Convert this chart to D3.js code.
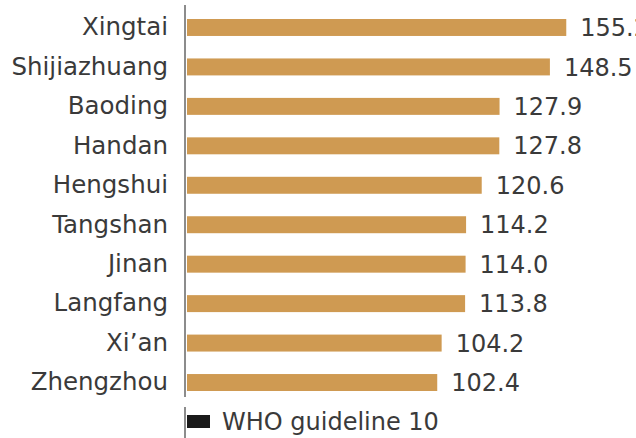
<!DOCTYPE html>
<html>
<head>
<meta charset="utf-8">
<script src="https://cdn.jsdelivr.net/npm/d3@7"></script>
<style>
  html, body { margin: 0; padding: 0; background: #fff; }
  svg { display: block; }
  text { font-family: "DejaVu Sans", Verdana, sans-serif; fill: #3a3a3a; }
</style>
</head>
<body>
<svg id="chart" width="636" height="438"></svg>
<script>
const cities = ["Xingtai", "Shijiazhuang", "Baoding", "Handan", "Hengshui", "Tangshan", "Jinan", "Langfang", "Xi\u2019an", "Zhengzhou"];
const values = [155.2, 148.5, 127.9, 127.8, 120.6, 114.2, 114.0, 113.8, 104.2, 102.4];
const legendLabel = "WHO guideline 10";

const svg = d3.select("#chart");

const x = d3.scaleLinear().domain([0, 160]).range([187, 578]);
const y = d3.scaleBand().domain(cities).range([19, 391]).paddingInner(0.57).paddingOuter(0);

const data = cities.map((c, i) => ({ city: c, value: values[i] }));

// bars
svg.selectAll("rect.bar")
  .data(data)
  .join("rect")
  .attr("class", "bar")
  .attr("x", x(0))
  .attr("y", d => y(d.city))
  .attr("width", d => x(d.value) - x(0))
  .attr("height", y.bandwidth())
  .attr("fill", "#CF9A52");

// category axis
const yAxis = d3.axisLeft(y).tickSize(0).tickPadding(17);
const gy = svg.append("g").attr("transform", "translate(185,0)").call(yAxis);
gy.select(".domain").remove();
gy.selectAll("text")
  .style("font-family", "'DejaVu Sans', Verdana, sans-serif")
  .style("font-size", "24.5px")
  .attr("fill", "#3a3a3a");

// axis line
svg.append("line")
  .attr("x1", 185).attr("x2", 185)
  .attr("y1", 5).attr("y2", 397)
  .attr("stroke", "#666").attr("stroke-width", 1.5);

// value labels
svg.selectAll("text.val")
  .data(data)
  .join("text")
  .attr("class", "val")
  .attr("x", d => x(d.value) + 14)
  .attr("y", d => y(d.city) + y.bandwidth() / 2)
  .attr("dy", "0.36em")
  .style("font-size", "24px")
  .text(d => d.value.toFixed(1));

// legend
svg.append("line")
  .attr("x1", 185).attr("x2", 185)
  .attr("y1", 407).attr("y2", 438)
  .attr("stroke", "#666").attr("stroke-width", 1.5);
svg.append("rect")
  .attr("x", 187).attr("y", 415)
  .attr("width", 23).attr("height", 13)
  .attr("fill", "#1a1a1a");
svg.append("text")
  .attr("x", 222).attr("y", 430)
  .style("font-size", "24px")
  .text(legendLabel);
</script>
</body>
</html>
